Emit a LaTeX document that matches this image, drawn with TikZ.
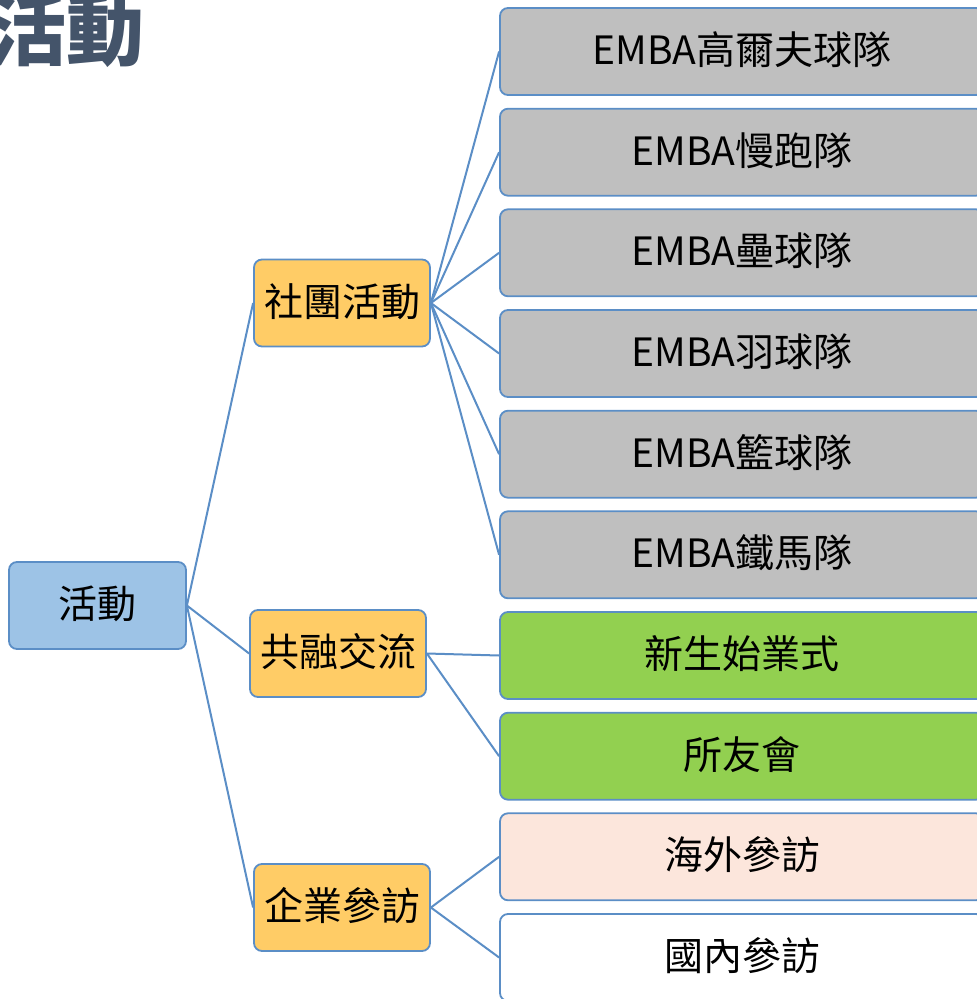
\documentclass[tikz,border=0pt]{standalone}
\usepackage{fontspec}
\setmainfont{Noto Sans CJK TC}
\definecolor{edgeblue}{HTML}{5B8EC6}
\definecolor{rootblue}{HTML}{9DC3E6}
\definecolor{midorange}{HTML}{FFCC66}
\definecolor{leafgray}{HTML}{BFBFBF}
\definecolor{leafgreen}{HTML}{92D050}
\definecolor{leafpeach}{HTML}{FCE6DC}
\definecolor{titleslate}{HTML}{44546A}
\tikzset{
  box/.style={draw=edgeblue, line width=1.8pt, rounded corners=8pt,
    font=\fontsize{39}{44}\selectfont, inner sep=0pt,
    text height=32pt, text depth=6pt},
  rootbox/.style={box, fill=rootblue, minimum width=177pt, minimum height=87pt},
  midbox/.style={box, fill=midorange, minimum width=176pt, minimum height=87pt},
  leafbox/.style={box, minimum width=484pt, minimum height=87pt},
}
\begin{document}
\begin{tikzpicture}[x=1pt,y=-1pt]
      \useasboundingbox (0,0) rectangle (977,999);
      \node[text=titleslate, font=\fontsize{78}{86}\selectfont\bfseries] (title) at (67,30) {活動};
      \draw
        (97.5,605.5) node[rootbox] (0){活動}
        (342,303) node[midbox] (1){社團活動}
        (338,653.5) node[midbox] (2){共融交流}
        (342,907.5) node[midbox] (3){企業參訪}
        (742,51.5) node[leafbox, fill=leafgray] (4){EMBA高爾夫球隊}
        (742,152.2) node[leafbox, fill=leafgray] (5){EMBA慢跑隊}
        (742,252.8) node[leafbox, fill=leafgray] (6){EMBA壘球隊}
        (742,353.5) node[leafbox, fill=leafgray] (7){EMBA羽球隊}
        (742,454.2) node[leafbox, fill=leafgray] (8){EMBA籃球隊}
        (742,554.8) node[leafbox, fill=leafgray] (9){EMBA鐵馬隊}
        (742,655.5) node[leafbox, fill=leafgreen] (10){新生始業式}
        (742,756.2) node[leafbox, fill=leafgreen] (11){所友會}
        (742,856.8) node[leafbox, fill=leafpeach] (12){海外參訪}
        (742,957.5) node[leafbox, fill=white] (13){國內參訪};
      \begin{scope}[-, draw=edgeblue, line width=2pt]
        \draw (0.east) to (1.west);
        \draw (0.east) to (2.west);
        \draw (0.east) to (3.west);
        \draw (1.east) to (4.west);
        \draw (1.east) to (5.west);
        \draw (1.east) to (6.west);
        \draw (1.east) to (7.west);
        \draw (1.east) to (8.west);
        \draw (1.east) to (9.west);
        \draw (2.east) to (10.west);
        \draw (2.east) to (11.west);
        \draw (3.east) to (12.west);
        \draw (3.east) to (13.west);
      \end{scope}
    \end{tikzpicture}
\end{document}
